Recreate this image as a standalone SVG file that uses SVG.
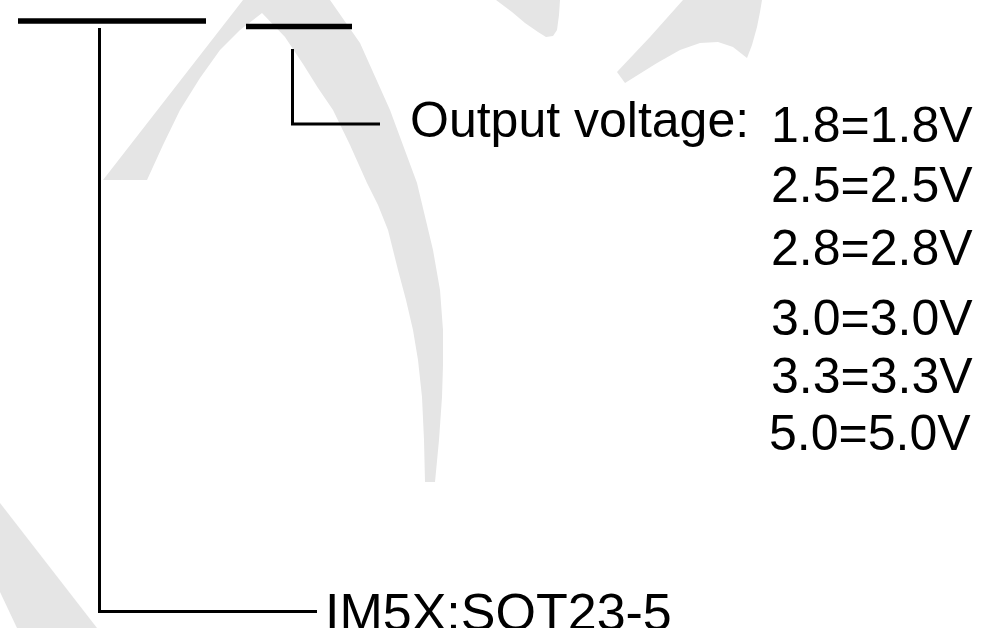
<svg xmlns="http://www.w3.org/2000/svg" width="981" height="628" viewBox="0 0 981 628">
<style>
.wm{fill:#e5e5e5;stroke:none}
.bar{stroke:#000;stroke-width:5.5;fill:none}
.ln{stroke:#000;stroke-width:3;fill:none}
.t{font-family:"Liberation Sans",Arial,sans-serif;font-size:50px;fill:#000}
</style>
<rect width="981" height="628" fill="#fff"/>
<g id="watermark">
<path class="wm" d="M103,180 L243,0 L262,-30 L300,-30 L330,0 L360,43 L390,110 L417,183 L433,250 L440,290 L443,330 L443,365 L442,397 L439,440 L435,482 L425,482 L424,440 L422,397 L418,360 L413,330 L406,300 L398,270 L388,230 L378,205 L367,183 L350,145 L333,110 L318,88 L303,64 L285,37 L262,13 L240,30 L220,50 L200,78 L180,110 L163,145 L147,180 Z"/>
<path class="wm" d="M496,0 L512,12 L525,23 L538,32 L546,37 L553,36 L557,30 L559,15 L560,0 Z"/>
<path class="wm" d="M683,0 L650,37 L617,72 L625,83 L657,63 L680,50 L700,43 L718,42 L733,47 L747,58 L752,45 L757,27 L760,12 L762,0 Z"/>
<path class="wm" d="M0,503 L97,628 L17,628 L0,592 Z"/>
</g>
<g id="connectors">
<line class="bar" x1="18" y1="21" x2="206" y2="21"/>
<line class="bar" x1="246" y1="26.5" x2="352" y2="26.5"/>
<polyline class="ln" points="99.5,28 99.5,611.5 317,611.5"/>
<polyline class="ln" points="292.5,49 292.5,124 380,124"/>
</g>
<g id="node-output">
<text class="t" x="410" y="137">Output voltage:</text>
</g>
<g id="node-values">
<text class="t" x="771" y="142">1.8=1.8V</text>
<text class="t" x="771" y="202">2.5=2.5V</text>
<text class="t" x="771" y="265">2.8=2.8V</text>
<text class="t" x="771" y="335">3.0=3.0V</text>
<text class="t" x="771" y="393">3.3=3.3V</text>
<text class="t" x="769" y="450">5.0=5.0V</text>
</g>
<g id="node-package">
<text class="t" x="325" y="630" style="font-size:52px">IM5X:SOT23-5</text>
</g>
</svg>
